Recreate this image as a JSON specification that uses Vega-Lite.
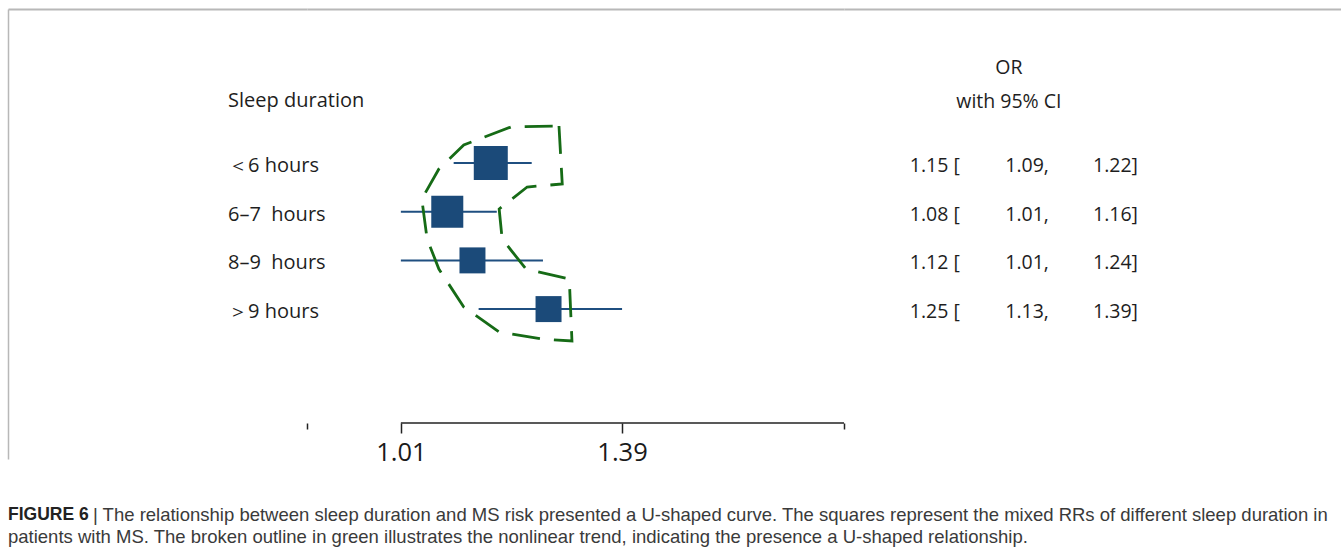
{
  "$schema": "https://vega.github.io/schema/vega-lite/v6.json",
  "background": "white",
  "padding": {"left": 8, "top": 9, "right": 0, "bottom": 0},
  "spacing": 38,
  "config": {
    "view": {"stroke": null},
    "font": "Open Sans",
    "text": {"font": "Open Sans", "color": "#1e1e1e"},
    "axis": {"labelFont": "Open Sans"}
  },
  "datasets": {
    "studies": [
      {"group": "＜6 hours", "row": 1, "or": 1.15, "lo": 1.09, "hi": 1.22, "weight": 32.7},
      {"group": "6–7\u00a0 hours", "row": 2, "or": 1.08, "lo": 1.01, "hi": 1.16, "weight": 29.0},
      {"group": "8–9\u00a0 hours", "row": 3, "or": 1.12, "lo": 1.01, "hi": 1.24, "weight": 19.1},
      {"group": "＞9 hours", "row": 4, "or": 1.25, "lo": 1.13, "hi": 1.39, "weight": 19.1}
    ],
    "outline": [
      {"seq": 1, "x": 1.269, "y": 0.240},
      {"seq": 2, "x": 1.275, "y": 1.431},
      {"seq": 3, "x": 1.212, "y": 1.493},
      {"seq": 4, "x": 1.164, "y": 1.945},
      {"seq": 5, "x": 1.169, "y": 2.561},
      {"seq": 6, "x": 1.210, "y": 3.177},
      {"seq": 7, "x": 1.288, "y": 3.382},
      {"seq": 8, "x": 1.293, "y": 4.655},
      {"seq": 9, "x": 1.238, "y": 4.614},
      {"seq": 10, "x": 1.164, "y": 4.470},
      {"seq": 11, "x": 1.106, "y": 3.957},
      {"seq": 12, "x": 1.067, "y": 3.177},
      {"seq": 13, "x": 1.049, "y": 2.561},
      {"seq": 14, "x": 1.041, "y": 1.739},
      {"seq": 15, "x": 1.067, "y": 1.123},
      {"seq": 16, "x": 1.106, "y": 0.630},
      {"seq": 17, "x": 1.184, "y": 0.261},
      {"seq": 18, "x": 1.269, "y": 0.240}
    ],
    "caption": [
      {"line": 1, "part": "head", "t": "FIGURE 6"},
      {"line": 1, "part": "body1", "t": "| The relationship between sleep duration and MS risk presented a U-shaped curve. The squares represent the mixed RRs of different sleep duration in"},
      {"line": 2, "part": "body2", "t": "patients with MS. The broken outline in green illustrates the nonlinear trend, indicating the presence a U-shaped relationship."}
    ]
  },
  "vconcat": [
    {
      "spacing": 0,
      "bounds": "flush",
      "hconcat": [
        {
          "width": 299,
          "height": 450,
          "encoding": {
            "x": {"datum": "label", "type": "nominal", "scale": {"type": "point", "domain": ["label"], "align": 0.736},
              "axis": {"orient": "top", "domainColor": "#b8b8b8", "domainWidth": 2, "ticks": false, "labels": false, "title": null, "grid": false}},
            "y": {"field": "row", "type": "quantitative", "scale": {"domain": [-2.162, 7.078], "reverse": true, "nice": false, "zero": false},
              "axis": {"orient": "left", "domainColor": "#b8b8b8", "domainWidth": 1.5, "ticks": false, "labels": false, "title": null, "grid": false}}
          },
          "layer": [
            {
              "data": {"name": "studies"},
              "mark": {"type": "text", "align": "left", "baseline": "middle", "fontSize": 20, "dy": 3},
              "encoding": {"text": {"field": "group"}}
            },
            {
              "data": {"values": [{"row": -0.3, "text": "Sleep duration"}]},
              "mark": {"type": "text", "align": "left", "baseline": "middle", "fontSize": 20, "dy": 1},
              "encoding": {"text": {"field": "text"}}
            }
          ]
        },
        {
          "width": 537,
          "height": 414,
          "resolve": {"axis": {"x": "independent"}},
          "layer": [
            {
              "data": {"name": "studies"},
              "mark": {"type": "rule", "color": "#1f4f80", "strokeWidth": 2},
              "encoding": {
                "x": {"field": "lo", "type": "quantitative", "scale": {"type": "log", "domain": [0.882, 1.915], "nice": false},
                  "axis": {"orient": "bottom", "values": [0.882, 1.01, 1.39, 1.915], "format": ".2f",
                    "labelExpr": "datum.value == 1.01 || datum.value == 1.39 ? datum.label : ''",
                    "domain": false, "grid": false, "ticks": true, "tickColor": "#222222", "tickWidth": 1.5,
                    "tickSize": {"condition": {"test": "datum.value < 1 || datum.value > 1.9", "value": 6}, "value": 10},
                    "labelFontSize": 25.5, "labelColor": "#1a1a1a", "labelPadding": 7, "title": null,
                    "labelFlush": false, "labelOverlap": false, "labelBound": false}},
                "x2": {"field": "hi"},
                "y": {"field": "row", "type": "quantitative", "scale": {"domain": [-2.162, 6.339], "reverse": true, "nice": false, "zero": false}, "axis": null}
              }
            },
            {
              "data": {"name": "studies"},
              "mark": {"type": "square", "filled": true, "opacity": 1, "color": "#1b4a79"},
              "encoding": {
                "x": {"field": "or", "type": "quantitative",
                  "axis": {"orient": "top", "domainColor": "#b8b8b8", "domainWidth": 2, "ticks": false, "labels": false, "title": null, "grid": false}},
                "y": {"field": "row", "type": "quantitative", "axis": null},
                "size": {"field": "weight", "type": "quantitative", "scale": {"domain": [0, 32.7], "range": [0, 1156]}, "legend": null}
              }
            },
            {
              "data": {"name": "outline"},
              "mark": {"type": "line", "color": "#166b16", "strokeWidth": 2.8, "strokeDash": [28, 14]},
              "encoding": {
                "x": {"field": "x", "type": "quantitative", "axis": null},
                "y": {"field": "y", "type": "quantitative", "axis": null},
                "order": {"field": "seq", "type": "quantitative"}
              }
            },
            {
              "data": {"values": [{"from": 1.01, "to": 1.915}]},
              "mark": {"type": "rule", "color": "#222222", "strokeWidth": 1.5},
              "encoding": {
                "x": {"field": "from", "type": "quantitative", "axis": null},
                "x2": {"field": "to"},
                "y": {"datum": 6.339, "type": "quantitative", "axis": null}
              }
            }
          ]
        },
        {
          "width": 497,
          "height": 414,
          "layer": [
            {
              "data": {"name": "studies"},
              "transform": [
                {"fold": ["or", "lo", "hi"], "as": ["col", "v"]},
                {"calculate": "format(datum.v, '.2f') + (datum.col == 'or' ? ' [' : datum.col == 'lo' ? ',' : ']')", "as": "txt"}
              ],
              "mark": {"type": "text", "align": "right", "baseline": "middle", "fontSize": 19.5, "dy": 3},
              "encoding": {
                "x": {"field": "col", "type": "nominal", "scale": {"type": "point", "domain": ["or", "lo", "hi", "pad1", "pad2"], "padding": 0.79, "align": 0.823},
                  "axis": {"orient": "top", "domainColor": "#b8b8b8", "domainWidth": 2, "ticks": false, "labels": false, "title": null, "grid": false}},
                "y": {"field": "row", "type": "quantitative", "scale": {"domain": [-2.162, 6.339], "reverse": true, "nice": false, "zero": false}, "axis": null},
                "text": {"field": "txt"}
              }
            },
            {
              "data": {"values": [{"row": -1.0, "text": "OR"}, {"row": -0.3, "text": "with 95% CI"}]},
              "mark": {"type": "text", "align": "center", "baseline": "middle", "fontSize": 19.5, "dx": -40, "dy": 2},
              "encoding": {
                "x": {"datum": "lo", "type": "nominal"},
                "y": {"field": "row", "type": "quantitative"},
                "text": {"field": "text"}
              }
            }
          ]
        }
      ]
    },
    {
      "width": 1333,
      "height": 44,
      "data": {"name": "caption"},
      "encoding": {
        "x": {"datum": 0, "type": "quantitative", "scale": {"domain": [0, 1]}, "axis": null},
        "y": {"field": "line", "type": "ordinal", "scale": {"type": "point", "padding": 0.5}, "axis": null}
      },
      "layer": [
        {
          "transform": [{"filter": "datum.part == 'head'"}],
          "mark": {"type": "text", "align": "left", "baseline": "middle", "font": "Liberation Sans", "fontWeight": "bold", "fontSize": 17.5, "color": "#222222"},
          "encoding": {"text": {"field": "t"}}
        },
        {
          "transform": [{"filter": "datum.part == 'body1'"}],
          "mark": {"type": "text", "align": "left", "baseline": "middle", "font": "Liberation Sans", "fontSize": 18.5, "color": "#3a3a3a", "dx": 85},
          "encoding": {"text": {"field": "t"}}
        },
        {
          "transform": [{"filter": "datum.part == 'body2'"}],
          "mark": {"type": "text", "align": "left", "baseline": "middle", "font": "Liberation Sans", "fontSize": 18.5, "color": "#3a3a3a"},
          "encoding": {"text": {"field": "t"}}
        }
      ]
    }
  ]
}
